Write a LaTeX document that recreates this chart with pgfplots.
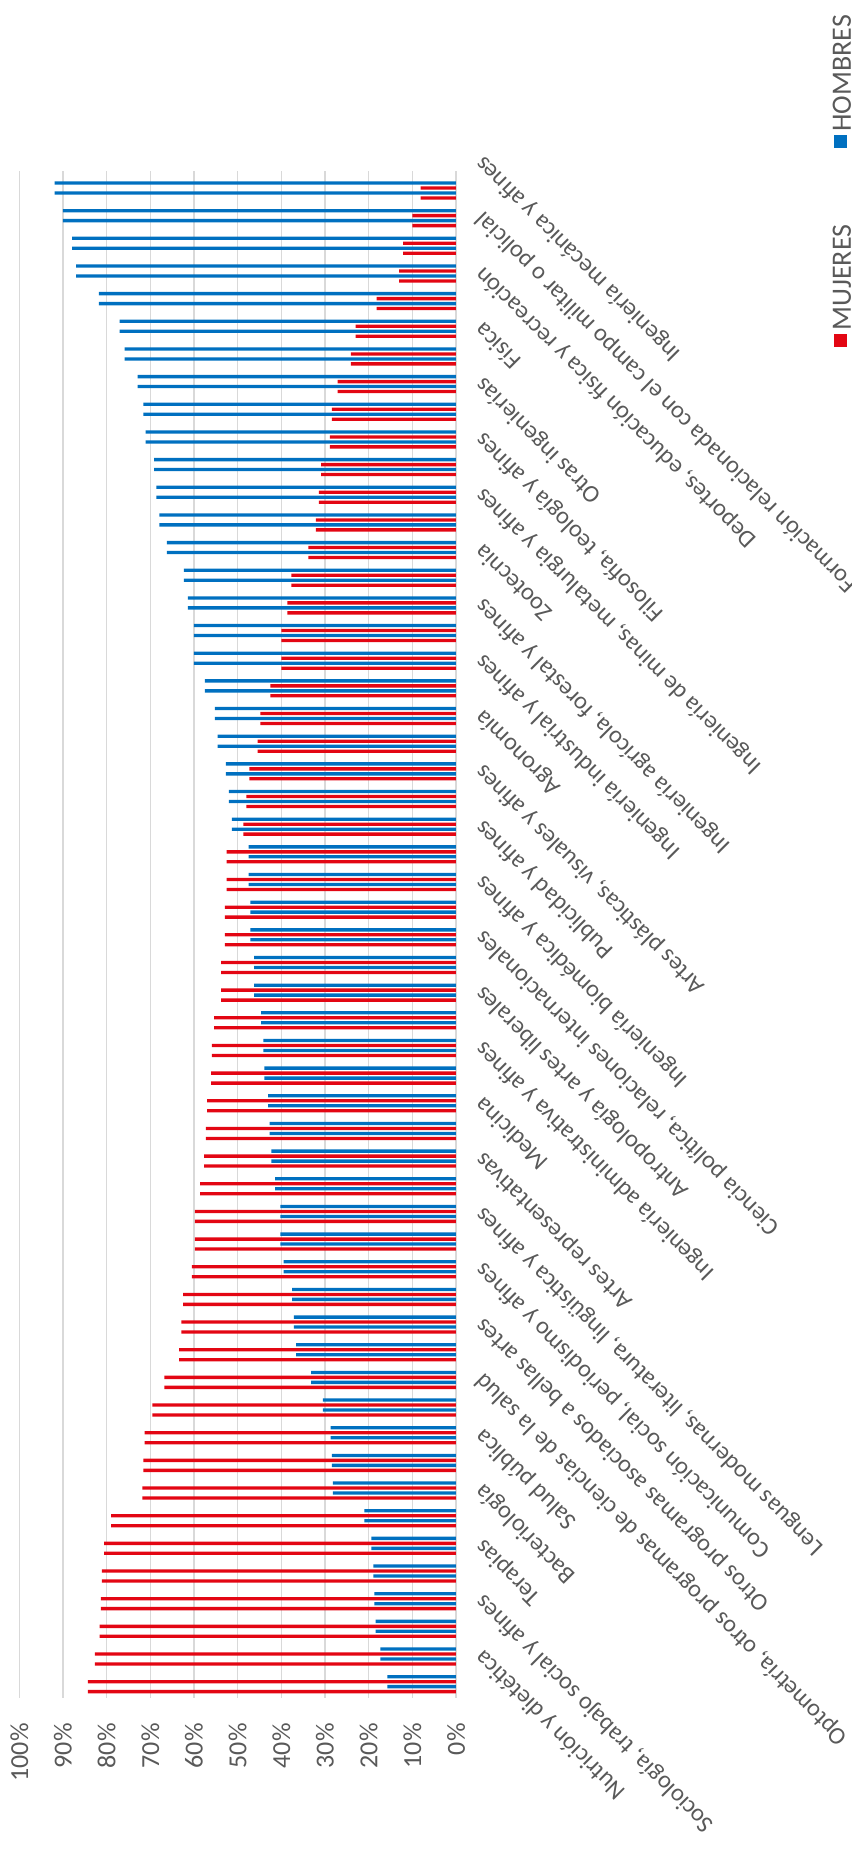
\documentclass[border=0pt]{standalone}
\usepackage{pgfplots}
\pgfplotsset{compat=1.18}
\usepackage{pgfplotstable}
\usepackage{fontspec}
\setmainfont{Carlito}
\definecolor{mblue}{HTML}{0070C0}
\definecolor{mred}{HTML}{E30613}
\definecolor{txt}{HTML}{595959}
\definecolor{grd}{HTML}{D9D9D9}

\pgfplotstableread{
y m w
55 91.9 8.1
54 90.0 10.0
53 87.9 12.1
52 87.0 13.0
51 81.8 18.2
50 77.0 23.0
49 75.9 24.1
48 72.9 27.1
47 71.6 28.4
46 71.1 28.9
45 69.1 30.9
44 68.6 31.4
43 67.9 32.1
42 66.2 33.8
41 62.3 37.7
40 61.4 38.6
39 60.0 40.0
38 60.0 40.0
37 57.5 42.5
36 55.2 44.8
35 54.6 45.4
34 52.7 47.3
33 52.0 48.0
32 51.3 48.7
31 47.5 52.5
30 47.5 52.5
29 47.1 52.9
28 47.1 52.9
27 46.2 53.8
26 46.2 53.8
25 44.6 55.4
24 44.1 55.9
23 43.9 56.1
22 43.0 57.0
21 42.7 57.3
20 42.3 57.7
19 41.4 58.6
18 40.2 59.8
17 40.2 59.8
16 39.5 60.5
15 37.5 62.5
14 37.1 62.9
13 36.6 63.4
12 33.2 66.8
11 30.5 69.5
10 28.7 71.3
9 28.4 71.6
8 28.2 71.8
7 21.0 79.0
6 19.4 80.6
5 18.9 81.1
4 18.7 81.3
3 18.4 81.6
2 17.3 82.7
1 15.7 84.3
}\data

\begin{document}
\begin{tikzpicture}
\useasboundingbox (0,0) rectangle (426pt,930pt);
\begin{axis}[
  at={(118.825pt,462.65pt)}, anchor=center,
  scale only axis, width=218.35pt, height=763.3pt,
  xmin=0, xmax=100, x dir=reverse,
  ymin=0.5, ymax=55.69,
  axis line style={draw=none},
  major tick length=0pt,
  tick style={draw=none},
  xmajorgrids,
  major grid style={grd, line width=0.7pt},
  xtick={0,10,20,30,40,50,60,70,80,90,100},
  xticklabels={0\%,10\%,20\%,30\%,40\%,50\%,60\%,70\%,80\%,90\%,100\%},
  xticklabel style={rotate=90, anchor=east, inner sep=0pt, text=txt, font=\fontsize{13pt}{15pt}\selectfont},
  xticklabel shift=12.5pt,
  ytick={1,3,...,55},
  yticklabel pos=right,
  yticklabels={Nutrición y dietética,{Sociología, trabajo social y afines},Terapias,Bacteriología,Salud pública,{Optometría, otros programas de ciencias de la salud},Otros programas asociados a bellas artes,{Comunicación social, periodismo y afines},{Lenguas modernas, literatura, lingüística y afines},Artes representativas,Medicina,Ingeniería administrativa y afines,Antropología y artes liberales,{Ciencia política, relaciones internacionales},Ingeniería biomédica y afines,Publicidad y afines,{Artes plásticas, visuales y afines},Agronomía,Ingeniería industrial y afines,{Ingeniería agrícola, forestal y afines},Zootecnia,{Ingeniería de minas, metalurgia y afines},{Filosofía, teología y afines},Otras ingenierías,Física,{Deportes, educación física y recreación},Formación relacionada con el campo militar o policial,Ingeniería mecánica y afines},
  yticklabel style={yshift=11.5pt, rotate=135, anchor=north east, inner sep=0pt, text=txt, font=\fontsize{12.2pt}{14pt}\selectfont},
  yticklabel shift=8pt,
]
\addplot[xbar, bar width=0.12, bar shift=0.27, fill=mblue, draw=none] table[x=m, y=y]{\data};
\addplot[xbar, bar width=0.12, bar shift=0.09, fill=mred, draw=none] table[x=w, y=y]{\data};
\addplot[xbar, bar width=0.12, bar shift=-0.09, fill=mblue, draw=none] table[x=m, y=y]{\data};
\addplot[xbar, bar width=0.12, bar shift=-0.27, fill=mred, draw=none] table[x=w, y=y]{\data};
\end{axis}
\fill[mblue] (416.75pt,855.75pt) rectangle (423.25pt,862.25pt);
\node[rotate=90, anchor=west, inner sep=0pt, text=txt, font=\fontsize{14pt}{16pt}\selectfont] at (421pt,864pt) {HOMBRES};
\fill[mred] (416.75pt,756.5pt) rectangle (423.25pt,763pt);
\node[rotate=90, anchor=west, inner sep=0pt, text=txt, font=\fontsize{14pt}{16pt}\selectfont] at (421pt,764.75pt) {MUJERES};
\end{tikzpicture}
\end{document}
